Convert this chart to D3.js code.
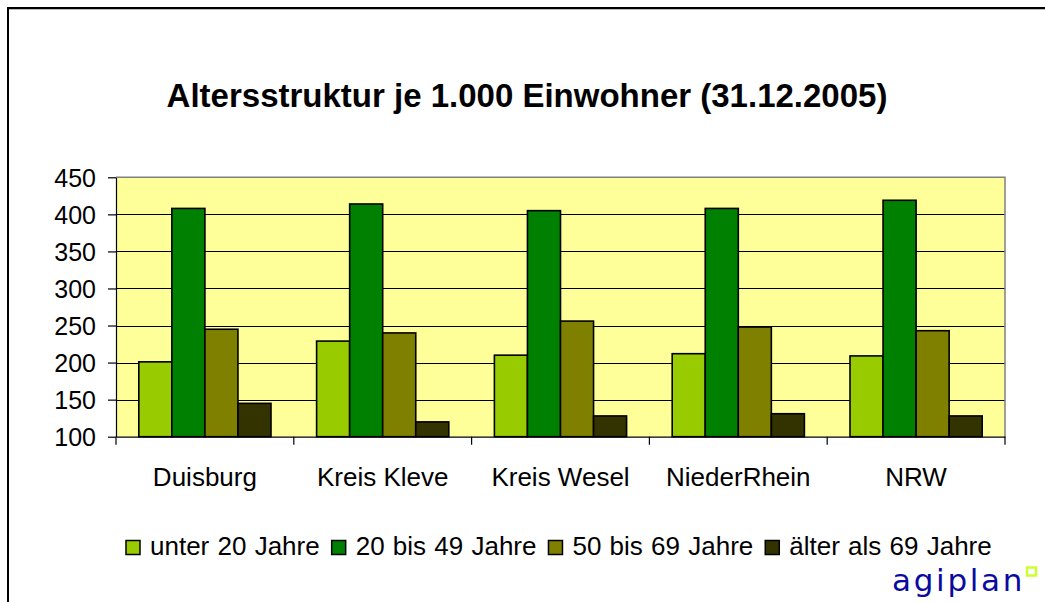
<!DOCTYPE html>
<html><head><meta charset="utf-8">
<script src="https://cdn.jsdelivr.net/npm/d3@7"></script>
<style>html,body{margin:0;padding:0;background:#fff;overflow:hidden}</style>
</head><body>
<svg id="c" width="1045" height="602"></svg>
<script>
const categories = ["Duisburg","Kreis Kleve","Kreis Wesel","NiederRhein","NRW"];
const seriesNames = ["unter 20 Jahre","20 bis 49 Jahre","50 bis 69 Jahre","älter als 69 Jahre"];
const unter20 = [201, 229, 210, 212, 209];
const von20bis49 = [408, 414, 405, 408, 419];
const von50bis69 = [245, 240, 256, 248, 243];
const ueber69 = [145, 120, 128, 131, 128];
const yTicks = [100,150,200,250,300,350,400,450];
const colors = ["#99CC00","#008000","#808000","#333300"];
const title = "Altersstruktur je 1.000 Einwohner (31.12.2005)";

const series = [unter20, von20bis49, von50bis69, ueber69];
const svg = d3.select("#c");
const font = "Arial, 'Liberation Sans', sans-serif";

// outer frame
svg.append("line").attr("x1",8).attr("x2",1045).attr("y1",9.5).attr("y2",9.5).attr("stroke","#bbb").attr("stroke-width",1);
svg.append("rect").attr("x",8).attr("y",8).attr("width",1100).attr("height",700)
  .attr("fill","none").attr("stroke","#000").attr("stroke-width",2);

const L=116, R=1005, T=177.3, B=436.7;
const x0 = d3.scaleBand().domain(categories).range([L,R]).paddingInner(0).paddingOuter(0);
const x1 = d3.scaleBand().domain(d3.range(4)).range([0,x0.bandwidth()]).paddingInner(0).paddingOuter(0.69);
const y = d3.scaleLinear().domain([100,450]).range([B,T]);

svg.append("rect").attr("x",L).attr("y",T).attr("width",R-L).attr("height",B-T).attr("fill","#FFFF99");

// gridlines
svg.append("g").selectAll("line").data(yTicks.filter(d=>d>100 && d<450)).join("line")
  .attr("x1",L).attr("x2",R).attr("y1",d=>Math.round(y(d))+0.5).attr("y2",d=>Math.round(y(d))+0.5)
  .attr("stroke","#000").attr("stroke-width",1);
// plot border top/right
svg.append("path").attr("d",`M${L},${T}H${R}V${B}`).attr("fill","none").attr("stroke","#808080").attr("stroke-width",1.5);

// bars
const g = svg.append("g");
categories.forEach((c,ci)=>{
  series.forEach((s,si)=>{
    g.append("rect")
      .attr("x", x0(c)+x1(si))
      .attr("y", y(s[ci]))
      .attr("width", x1.bandwidth())
      .attr("height", B - y(s[ci]))
      .attr("fill", colors[si])
      .attr("stroke","#000").attr("stroke-width",1.6);
  });
});

// y axis
const yAxis = d3.axisLeft(y).tickValues(yTicks).tickSize(8).tickPadding(12).tickSizeOuter(0);
const ya = svg.append("g").attr("transform",`translate(${L},0)`).call(yAxis);
ya.select(".domain").attr("stroke","#000").attr("stroke-width",1.2);
ya.selectAll(".tick line").attr("stroke","#000").attr("stroke-width",1.2);
ya.selectAll(".tick text").attr("font-family",font).attr("font-size",25).attr("fill","#000").attr("dy","0.36em");

// x axis
const xAxis = d3.axisBottom(x0).tickSize(0).tickPadding(31).tickSizeOuter(0);
const xa = svg.append("g").attr("transform",`translate(0,${B})`).call(xAxis);
xa.select(".domain").attr("stroke","#000").attr("stroke-width",1.2);
xa.selectAll(".tick text").attr("font-family",font).attr("font-size",26).attr("fill","#000");
// category boundary ticks
svg.append("g").selectAll("line").data(d3.range(categories.length+1)).join("line")
  .attr("x1",i=>L+i*x0.step()).attr("x2",i=>L+i*x0.step())
  .attr("y1",B).attr("y2",B+8).attr("stroke","#000").attr("stroke-width",1.2);

// title
svg.append("text").attr("x",527).attr("y",107).attr("text-anchor","middle")
  .attr("font-family",font).attr("font-weight","bold").attr("font-size",33).attr("fill","#000").text(title);

// legend
const lg = svg.append("g");
let lx = 126;
seriesNames.forEach((n,i)=>{
  lg.append("rect").attr("x",lx).attr("y",540.5).attr("width",14).attr("height",14)
    .attr("fill",colors[i]).attr("stroke","#000").attr("stroke-width",1.5);
  const t = lg.append("text").attr("x",lx+24).attr("y",554.5).attr("font-family",font).attr("font-size",26)
    .attr("word-spacing",1).attr("fill","#000").text(n);
  lx = lx + 24 + t.node().getComputedTextLength() + 12;
});

// logo
svg.append("text").attr("x",892).attr("y",591).attr("font-family","'DejaVu Sans', Verdana, sans-serif")
  .attr("font-size",31).attr("letter-spacing",2.7).attr("fill","#0A0A9E").text("agiplan");
svg.append("rect").attr("x",1027).attr("y",567.5).attr("width",9).attr("height",8)
  .attr("fill","none").attr("stroke","#CCFF33").attr("stroke-width",2.5);
</script>
</body></html>
